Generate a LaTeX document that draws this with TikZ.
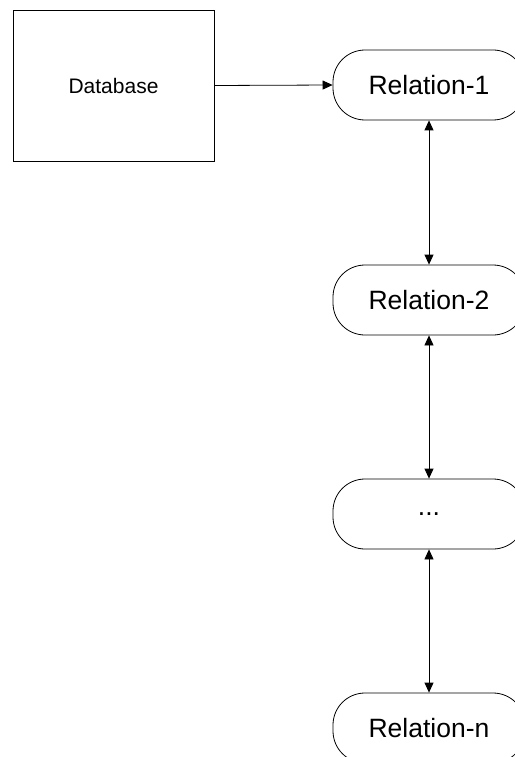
\documentclass[tikz,border=0pt]{standalone}
\usepackage{fontspec}
\setmainfont{Liberation Sans}
\usetikzlibrary{arrows.meta}

\begin{document}
\begin{tikzpicture}[x=1pt, y=-1pt, line width=0.8pt,
	dbbox/.style={draw, minimum width=201pt, minimum height=151pt, inner sep=0pt, font=\fontsize{21}{25}\selectfont},
	relbox/.style={draw, rounded corners=32pt, minimum width=192pt, minimum height=70pt, inner sep=0pt, font=\fontsize{26.5}{30}\selectfont},
	link/.style={{Triangle[length=10pt,width=9pt]}-{Triangle[length=10pt,width=9pt]}},
	feed/.style={-{Triangle[length=10pt,width=9pt]}}]
			%%%%% START %%%%%
			
			\useasboundingbox (0, 0) rectangle (514, 757);
			
			\node[dbbox] (db) at (113.5, 85.5) {Database};
			
			\node[relbox] (rel1) at (429, 85) {Relation-1};
			\node[relbox] (rel2) at (429, 300) {Relation-2};
			\node[relbox] (reldots) at (429, 514) {...};
			\node[relbox] (reln) at (429, 728) {Relation-n};
			
			\draw[feed] (db.east) -- (rel1.west);
			
			\draw[link] (rel1.south) -- (rel2.north);
			\draw[link] (rel2.south) -- (reldots.north);
			\draw[link] (reldots.south) -- (reln.north);
			
			%%%%% END %%%%%
\end{tikzpicture}
\end{document}
